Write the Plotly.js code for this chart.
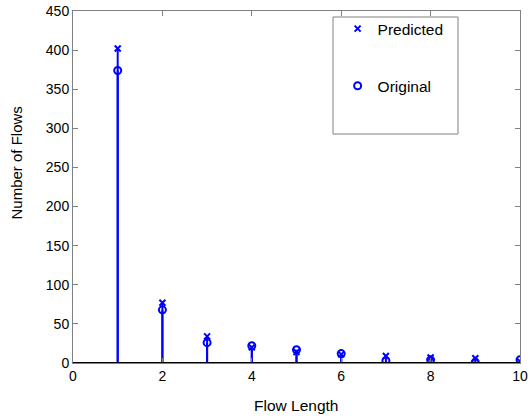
<!DOCTYPE html>
<html>
<head>
<meta charset="utf-8">
<script src="https://cdn.plot.ly/plotly-3.0.1.min.js"></script>
<style>html,body{margin:0;padding:0;background:#fff;}#chart{width:528px;height:417px;}</style>
</head>
<body>
<div id="chart"></div>
<script>
var flowLength = [1, 2, 3, 4, 5, 6, 7, 8, 9, 10];
var predicted = [402, 77, 34, 20, 14, 11, 9, 7, 6, 2];
var original = [374, 68, 26, 22, 17, 12, 3, 4, 1, 4];
var xTicks = [0, 2, 4, 6, 8, 10];
var yTicks = [0, 50, 100, 150, 200, 250, 300, 350, 400, 450];

var blue = 'rgb(0,0,255)';
var fam = 'Liberation Sans, Arial, sans-serif';
function stems(xs, ys) {
  var sx = [], sy = [];
  for (var i = 0; i < xs.length; i++) {
    sx.push(xs[i], xs[i], null);
    sy.push(0, ys[i], null);
  }
  return {x: sx, y: sy};
}
var sp = stems(flowLength, predicted);
var so = stems(flowLength, original);

var traces = [
  {x: sp.x, y: sp.y, mode: 'lines', line: {color: blue, width: 2}, showlegend: false, hoverinfo: 'skip'},
  {x: so.x, y: so.y, mode: 'lines', line: {color: blue, width: 2}, showlegend: false, hoverinfo: 'skip'},
  {x: flowLength, y: predicted, mode: 'markers', name: 'Predicted', legendgroup: 'p',
   marker: {symbol: 'x-thin', size: 6, color: blue, line: {color: blue, width: 2}}},
  {x: flowLength, y: original, mode: 'markers', name: 'Original', legendgroup: 'o',
   marker: {symbol: 'circle-open', size: 7, color: blue, line: {color: blue, width: 2}}}
];

var axisCommon = {
  showgrid: false, zeroline: false, showline: true, linecolor: '#808080', linewidth: 1,
  mirror: 'ticks', ticks: 'inside', ticklen: 5, tickcolor: '#808080',
  tickfont: {family: fam, size: 14, color: '#000'}
};

var layout = {
  width: 528, height: 417,
  margin: {l: 73, r: 8, t: 11, b: 54},
  paper_bgcolor: '#fff', plot_bgcolor: '#fff',
  font: {family: fam, size: 14, color: '#000'},
  xaxis: Object.assign({}, axisCommon, {range: [0, 10], tickvals: xTicks, ticktext: xTicks.map(String)}),
  yaxis: Object.assign({}, axisCommon, {range: [0, 450], tickvals: yTicks, ticktext: yTicks.map(String)}),
  showlegend: true,
  legend: {x: 0.592, y: 0.997, xanchor: 'left', yanchor: 'top', bgcolor: 'rgba(0,0,0,0)',
    borderwidth: 0, traceorder: 'grouped', tracegroupgap: 34,
    font: {family: fam, size: 15.5, color: '#000'}},
  annotations: [
    {text: 'Flow Length', xref: 'paper', yref: 'paper', x: (296 - 73) / 447, y: 1 - (405 - 11) / 352,
     xanchor: 'center', yanchor: 'middle', showarrow: false, font: {family: fam, size: 15.5, color: '#000'}},
    {text: 'Number of Flows', xref: 'paper', yref: 'paper', x: (16 - 73) / 447, y: 1 - (162.5 - 11) / 352,
     xanchor: 'center', yanchor: 'middle', textangle: -90, showarrow: false, font: {family: fam, size: 15, color: '#000'}}
  ],
  shapes: [
    {type: 'line', xref: 'paper', yref: 'y', x0: 0, x1: 1, y0: 0, y1: 0, line: {color: '#000', width: 2}},
    {type: 'rect', xref: 'paper', yref: 'paper', x0: (333 - 73) / 447, x1: (458 - 73) / 447,
     y0: 1 - (134 - 11) / 352, y1: 1 - (17 - 11) / 352, line: {color: '#808080', width: 1}, fillcolor: 'rgba(0,0,0,0)'}
  ]
};

Plotly.newPlot('chart', traces, layout, {displayModeBar: false, staticPlot: true});
</script>
</body>
</html>
